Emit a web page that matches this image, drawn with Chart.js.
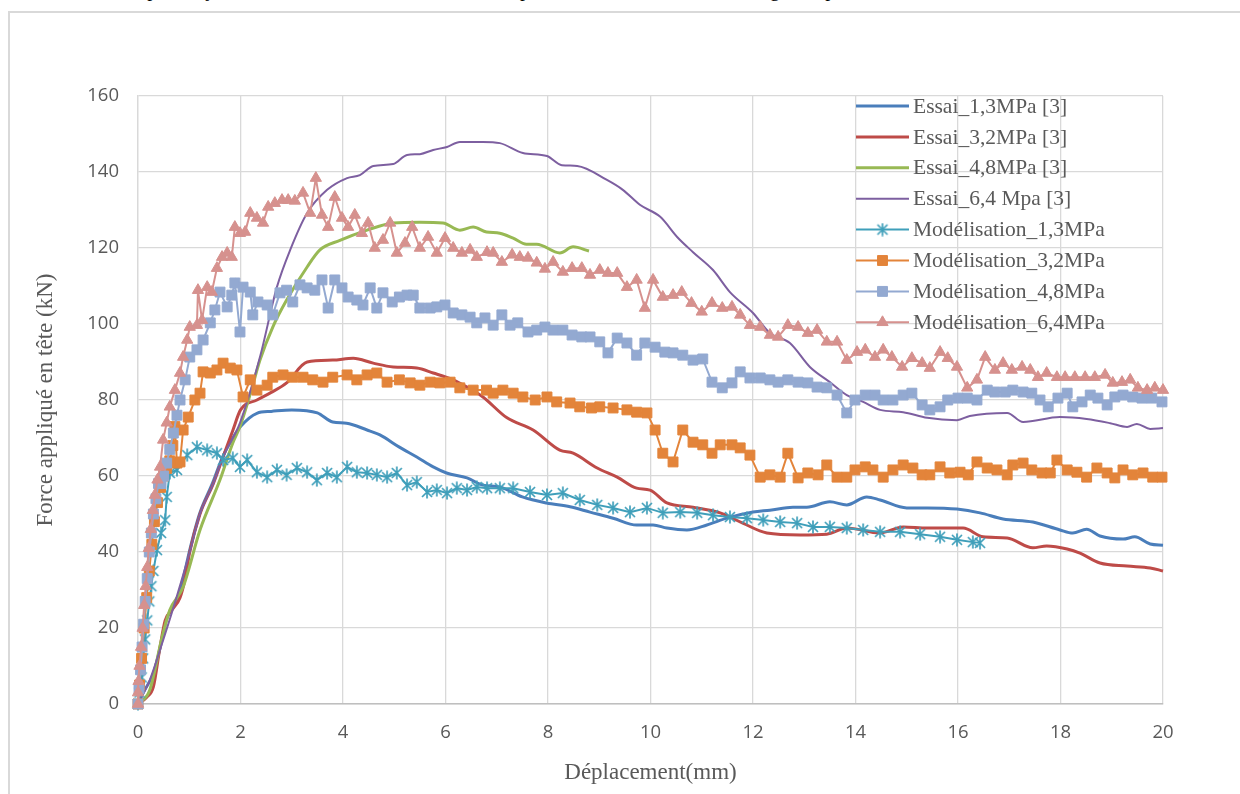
<!DOCTYPE html>
<html lang="fr">
<head>
<meta charset="utf-8">
<title>Force appliquée en tête - déplacement</title>
<script src="https://cdn.jsdelivr.net/npm/chart.js@4.4.1/dist/chart.umd.min.js"></script>
<style>
  html, body { margin: 0; padding: 0; background: #fff; }
  body { width: 1240px; height: 794px; position: relative; overflow: hidden; }
  #topline { position: absolute; left: 14px; top: -21px; font: 20px/20px "Liberation Serif", "Times New Roman", serif; color: #000; white-space: nowrap; }
  #frame { position: absolute; left: 8px; top: 11px; width: 1260px; height: 820px; border: 2px solid #d9d9d9; box-sizing: border-box; }
  #chart { position: absolute; left: 0; top: 0; }
</style>
</head>
<body>
<div id="topline">Nous avons comparé le jeu de résultats avec un modèle de comportement de résistance de calage des plus réalistes.</div>
<div id="frame"></div>
<canvas id="chart" width="1240" height="794"></canvas>
<script>
// axes
const xTicks = [0, 2, 4, 6, 8, 10, 12, 14, 16, 18, 20];
const yTicks = [0, 20, 40, 60, 80, 100, 120, 140, 160];

const seriesNames = [
  'Essai_1,3MPa [3]', 'Essai_3,2MPa [3]', 'Essai_4,8MPa [3]', 'Essai_6,4 Mpa [3]',
  'Modélisation_1,3MPa', 'Modélisation_3,2MPa', 'Modélisation_4,8MPa', 'Modélisation_6,4MPa'
];

// essais (courbes lissées)
const essai13X = [0, 0.1, 0.3, 0.47, 0.55, 0.66, 0.8, 0.9, 1.0, 1.2, 1.45, 1.65, 1.85, 2.0, 2.32, 2.6, 3.0, 3.5, 3.8, 4.07, 4.47, 4.72, 5.1, 5.44, 5.76, 6.02, 6.42, 6.73, 7.06, 7.5, 7.97, 8.43, 8.82, 9.27, 9.73, 10.05, 10.32, 10.71, 11.1, 11.49, 12.0, 12.33, 12.78, 13.05, 13.5, 13.83, 14.22, 14.48, 15.0, 15.4, 15.98, 16.43, 16.88, 17.46, 17.99, 18.24, 18.51, 18.77, 19.22, 19.45, 19.75, 20.0];
const essai13Y = [0, 3, 8, 17, 22, 25, 29, 34, 40, 50, 58, 65, 70, 73, 76.5, 77, 77.4, 76.6, 74.2, 73.9, 72.1, 70.8, 67.6, 65, 62.4, 60.8, 59.5, 57.6, 57.1, 54.5, 52.9, 51.9, 50.5, 48.9, 47.1, 47.1, 46.3, 45.8, 47.1, 48.9, 50.5, 51, 51.8, 51.8, 53.2, 52.4, 54.5, 53.7, 51.6, 51.6, 51.3, 50.3, 48.7, 47.9, 45.8, 45, 46, 44.2, 43.4, 44, 42.1, 41.8];

const essai32X = [0, 0.17, 0.3, 0.43, 0.53, 0.66, 0.82, 0.92, 1.01, 1.21, 1.47, 1.66, 1.85, 2.0, 2.32, 2.6, 2.9, 3.3, 3.8, 4.2, 4.59, 4.98, 5.44, 5.76, 6.15, 6.42, 6.73, 7.2, 7.71, 8.23, 8.49, 8.96, 9.35, 9.73, 9.99, 10.32, 10.83, 11.36, 11.8, 12.27, 12.92, 13.44, 13.83, 14.48, 14.93, 15.4, 16.1, 16.49, 16.96, 17.46, 17.73, 18.13, 18.38, 18.77, 19.3, 19.75, 20.0];
const essai32Y = [0, 1.8, 4.5, 15, 22, 24.7, 28, 33, 40, 50, 58, 65, 72, 77.4, 80, 82, 84.5, 90, 90.5, 91, 89.7, 88.7, 88.4, 87.1, 85.3, 83.4, 80.8, 75.3, 72.1, 66.8, 66, 62.1, 59.7, 56.8, 56.3, 52.9, 51.8, 50.3, 47.6, 45, 44.5, 44.7, 46.3, 45, 46.6, 46.3, 46.3, 44, 43.7, 41.1, 41.6, 40.8, 39.7, 37.1, 36.3, 35.8, 35];

const essai48X = [0, 0.23, 0.47, 0.62, 0.88, 1.21, 1.6, 1.85, 1.99, 2.2, 2.38, 2.63, 2.9, 3.3, 3.55, 3.94, 4.47, 4.98, 5.5, 5.95, 6.28, 6.54, 6.8, 7.06, 7.32, 7.58, 7.78, 8.23, 8.49, 8.8];
const essai48Y = [0, 3.7, 17.6, 24.7, 30.8, 45.8, 59, 68.7, 73, 82, 90.5, 99.2, 106.3, 115, 119.5, 122, 124.7, 126.6, 126.8, 126.6, 124.7, 125.5, 124.2, 123.9, 122.6, 121, 121, 118.7, 120.3, 119.2];

const essai64X = [0, 0.23, 0.49, 0.66, 1.01, 1.21, 1.47, 1.66, 1.99, 2.38, 2.71, 2.97, 3.3, 3.69, 4.08, 4.33, 4.59, 4.98, 5.25, 5.5, 5.76, 6.03, 6.28, 6.73, 7.06, 7.51, 7.98, 8.27, 8.57, 9.15, 9.46, 9.8, 10.19, 10.52, 10.83, 11.22, 11.55, 12.0, 12.33, 12.72, 13.11, 13.5, 13.83, 14.15, 14.48, 14.93, 15.4, 15.98, 16.23, 16.96, 17.27, 17.99, 18.51, 18.97, 19.3, 19.49, 19.75, 20.0];
const essai64Y = [0, 6.3, 16.8, 24, 40, 50, 58, 65, 74, 91.3, 109.7, 119.5, 129.2, 135.3, 138.4, 139.2, 141.6, 142.1, 144.5, 144.7, 145.8, 146.6, 147.9, 147.9, 147.6, 145, 144.2, 141.8, 141.6, 137.9, 135.3, 131.3, 128.2, 122.9, 118.9, 114.2, 108.4, 102.9, 97.6, 95, 88.7, 84.7, 81.3, 79.5, 77.4, 76.8, 75.3, 74.7, 75.8, 76.6, 74.2, 75.5, 75, 73.9, 72.9, 73.7, 72.4, 72.6];

// modélisations (points)
const mod13X = [0, 0.03, 0.07, 0.1, 0.14, 0.18, 0.22, 0.26, 0.3, 0.37, 0.45, 0.53, 0.56, 0.62, 0.76, 0.96, 1.15, 1.35, 1.54, 1.66, 1.85, 1.99, 2.13, 2.32, 2.52, 2.71, 2.9, 3.1, 3.3, 3.49, 3.69, 3.88, 4.08, 4.27, 4.47, 4.66, 4.86, 5.05, 5.25, 5.44, 5.64, 5.83, 6.03, 6.22, 6.42, 6.61, 6.81, 7.06, 7.32, 7.65, 7.98, 8.29, 8.62, 8.96, 9.27, 9.6, 9.93, 10.24, 10.58, 10.91, 11.22, 11.55, 11.88, 12.2, 12.53, 12.86, 13.17, 13.5, 13.83, 14.15, 14.48, 14.87, 15.26, 15.65, 15.98, 16.29, 16.43];
const mod13Y = [0, 3, 7, 12, 17, 22, 27, 31, 35, 40.5, 45, 48.4, 54.5, 60.8, 61.6, 65.5, 67.6, 66.8, 66, 64.2, 64.7, 62.4, 64.2, 61, 59.7, 61.6, 60.3, 62.1, 61, 58.9, 60.8, 59.7, 62.4, 61, 60.8, 60.3, 59.7, 60.8, 57.6, 58.4, 55.8, 56.3, 55.5, 56.8, 56.3, 57.1, 56.8, 56.8, 56.8, 55.8, 55, 55.5, 53.7, 52.4, 51.6, 50.5, 51.6, 50.3, 50.5, 50.3, 49.7, 49.2, 48.9, 48.4, 47.9, 47.6, 46.6, 46.6, 46.3, 45.8, 45.3, 45.3, 44.7, 44, 43.2, 42.6, 42.4];

const mod32X = [0, 0.03, 0.07, 0.12, 0.17, 0.22, 0.27, 0.32, 0.38, 0.44, 0.5, 0.56, 0.62, 0.68, 0.72, 0.76, 0.82, 0.88, 0.98, 1.11, 1.21, 1.27, 1.41, 1.54, 1.66, 1.8, 1.93, 2.05, 2.19, 2.32, 2.52, 2.63, 2.83, 3.02, 3.22, 3.41, 3.61, 3.8, 4.08, 4.27, 4.47, 4.66, 4.86, 5.1, 5.31, 5.5, 5.7, 5.89, 6.09, 6.28, 6.54, 6.8, 6.93, 7.12, 7.32, 7.51, 7.75, 7.98, 8.17, 8.43, 8.62, 8.85, 9.01, 9.27, 9.54, 9.73, 9.93, 10.09, 10.24, 10.44, 10.63, 10.83, 11.02, 11.2, 11.36, 11.59, 11.75, 11.94, 12.14, 12.33, 12.53, 12.68, 12.88, 13.07, 13.27, 13.44, 13.64, 13.83, 13.99, 14.19, 14.34, 14.54, 14.73, 14.93, 15.12, 15.3, 15.45, 15.65, 15.84, 16.04, 16.2, 16.37, 16.57, 16.76, 16.96, 17.07, 17.27, 17.44, 17.64, 17.8, 17.93, 18.13, 18.32, 18.51, 18.71, 18.91, 19.06, 19.22, 19.41, 19.61, 19.8, 19.98];
const mod32Y = [0, 5, 12, 20, 28, 35, 42, 48, 53, 57, 60, 62, 64, 68, 73, 63.4, 63.7, 72.1, 75.5, 80, 81.8, 87.4, 87.1, 87.9, 89.7, 88.4, 87.9, 80.8, 85.3, 82.6, 83.9, 86, 86.6, 86, 86, 85.3, 84.7, 86, 86.6, 85.3, 86.6, 87.1, 84.7, 85.3, 84.5, 83.9, 84.7, 84.5, 84.7, 83.2, 82.6, 82.6, 81.8, 82.6, 81.8, 80.8, 80, 80.8, 79.5, 79.2, 78.2, 77.9, 78.2, 77.9, 77.4, 76.8, 76.6, 72.1, 66, 63.7, 72.1, 68.9, 68.2, 66, 68.2, 68.2, 67.4, 65.5, 59.7, 60.3, 59.7, 66, 59.5, 60.8, 60.3, 62.9, 59.7, 59.7, 61.6, 62.4, 61.6, 59.7, 61.6, 62.9, 62.1, 60.3, 60.3, 62.4, 60.8, 61, 60.3, 63.7, 62.1, 61.6, 60.3, 62.9, 63.4, 61.6, 60.8, 60.8, 64.2, 61.6, 61, 59.7, 62.1, 60.8, 59.5, 61.6, 60.3, 60.8, 59.7, 59.7];

const mod48X = [0, 0.02, 0.05, 0.08, 0.11, 0.14, 0.18, 0.22, 0.26, 0.3, 0.35, 0.4, 0.45, 0.5, 0.56, 0.62, 0.69, 0.76, 0.82, 0.92, 1.01, 1.15, 1.27, 1.41, 1.5, 1.6, 1.74, 1.83, 1.89, 1.99, 2.05, 2.19, 2.24, 2.34, 2.52, 2.63, 2.77, 2.9, 3.02, 3.16, 3.3, 3.45, 3.59, 3.71, 3.84, 3.98, 4.1, 4.27, 4.39, 4.53, 4.66, 4.78, 4.96, 5.1, 5.25, 5.37, 5.5, 5.7, 5.83, 5.99, 6.15, 6.32, 6.48, 6.61, 6.77, 6.93, 7.1, 7.26, 7.41, 7.61, 7.78, 7.94, 8.1, 8.29, 8.47, 8.66, 8.82, 9.01, 9.17, 9.35, 9.54, 9.73, 9.89, 10.09, 10.28, 10.44, 10.63, 10.83, 11.02, 11.2, 11.4, 11.59, 11.75, 11.94, 12.14, 12.33, 12.49, 12.68, 12.88, 13.07, 13.25, 13.44, 13.64, 13.83, 13.99, 14.19, 14.38, 14.54, 14.73, 14.93, 15.1, 15.3, 15.45, 15.65, 15.8, 16.0, 16.18, 16.37, 16.57, 16.72, 16.92, 17.07, 17.27, 17.44, 17.6, 17.76, 17.95, 18.13, 18.24, 18.42, 18.58, 18.73, 18.91, 19.06, 19.22, 19.41, 19.59, 19.78, 19.98];
const mod48Y = [0, 4, 9, 15, 21, 27, 33, 40, 45, 50, 54, 58, 58, 60, 63.4, 67, 71.3, 76, 80, 85.3, 91.3, 93.2, 95.8, 100.3, 103.7, 108.4, 104.5, 107.6, 110.8, 97.9, 109.7, 108.4, 102.4, 105.8, 105, 102.4, 108.2, 108.9, 105.8, 110.3, 109.5, 108.9, 111.6, 104.2, 111.6, 109.5, 107.1, 106.3, 105, 109.5, 104.2, 108.2, 105.8, 107.1, 107.6, 107.6, 104.2, 104.2, 104.5, 105, 102.9, 102.4, 101.8, 100.3, 101.6, 99.7, 102.4, 99.7, 100.3, 97.9, 98.4, 99.2, 98.4, 98.4, 97.1, 96.6, 96.6, 95.3, 92.4, 96.3, 95, 91.8, 95, 93.9, 92.6, 92.4, 91.8, 90.5, 90.8, 84.7, 83.2, 84.5, 87.4, 85.8, 85.8, 85.3, 84.7, 85.3, 84.7, 84.5, 83.4, 83.2, 81.3, 76.6, 80, 81.3, 81.3, 80, 80, 81.3, 81.8, 78.7, 77.4, 78.2, 80, 80.5, 80.5, 80, 82.6, 82.1, 82.1, 82.6, 82.1, 81.8, 80, 78.2, 80.5, 81.8, 78.2, 79.5, 81.3, 80.5, 78.7, 80.8, 81.3, 80.8, 80.5, 80.5, 79.5];

const mod64X = [0, 0, 0.01, 0.03, 0.06, 0.09, 0.12, 0.15, 0.18, 0.21, 0.25, 0.29, 0.33, 0.38, 0.43, 0.49, 0.56, 0.62, 0.72, 0.82, 0.88, 0.96, 1.01, 1.15, 1.17, 1.25, 1.35, 1.44, 1.54, 1.64, 1.74, 1.83, 1.89, 1.99, 2.09, 2.19, 2.32, 2.44, 2.54, 2.67, 2.81, 2.93, 3.06, 3.22, 3.36, 3.47, 3.59, 3.71, 3.84, 3.98, 4.1, 4.23, 4.37, 4.49, 4.62, 4.78, 4.92, 5.05, 5.21, 5.35, 5.5, 5.66, 5.83, 5.99, 6.15, 6.32, 6.48, 6.61, 6.81, 6.93, 7.1, 7.3, 7.45, 7.61, 7.78, 7.94, 8.1, 8.29, 8.47, 8.66, 8.82, 9.01, 9.17, 9.35, 9.54, 9.73, 9.89, 10.05, 10.24, 10.44, 10.61, 10.8, 11.0, 11.2, 11.4, 11.59, 11.75, 11.94, 12.14, 12.33, 12.49, 12.68, 12.88, 13.07, 13.25, 13.44, 13.64, 13.83, 14.03, 14.19, 14.38, 14.54, 14.71, 14.91, 15.1, 15.3, 15.45, 15.65, 15.8, 15.98, 16.18, 16.37, 16.53, 16.72, 16.88, 17.05, 17.25, 17.41, 17.56, 17.73, 17.93, 18.09, 18.28, 18.48, 18.67, 18.87, 19.02, 19.2, 19.36, 19.51, 19.69, 19.84, 20.0];
const mod64Y = [0, 3, 6, 10, 15, 20, 26, 31, 36, 41, 46, 51, 55, 59, 62.4, 69.5, 74, 78.2, 82.6, 87.1, 91.3, 95.8, 99.2, 99.7, 108.9, 101, 109.7, 108.4, 114.7, 117.6, 118.7, 117.6, 125.5, 123.9, 124.2, 129.2, 127.9, 126.6, 130.8, 131.8, 132.6, 132.6, 132.4, 134.5, 129.2, 138.4, 128.7, 125.5, 133.4, 127.9, 125.5, 128.7, 123.9, 126.6, 120, 122.1, 126.6, 118.7, 121.3, 125.5, 120, 122.9, 118.7, 122.6, 120, 118.7, 119.5, 117.6, 118.9, 118.7, 116.3, 118.2, 117.6, 117.4, 116.1, 114.5, 116.3, 113.7, 114.7, 114.7, 112.9, 114.2, 113.4, 113.4, 109.7, 111.6, 104.2, 111.6, 107.1, 107.6, 108.4, 105.5, 103.2, 105.5, 104.2, 104.5, 102.4, 99.7, 99.2, 97.1, 96.6, 99.7, 99.2, 97.6, 98.4, 95.3, 95.3, 90.5, 92.6, 93.2, 91.3, 93.2, 91.3, 88.7, 91, 89.7, 88.4, 92.6, 91, 88.7, 83.2, 85.3, 91.3, 87.9, 89.7, 87.9, 88.7, 87.9, 86, 87.1, 86, 86, 86, 86, 86, 86.6, 84.5, 84.7, 85.3, 83.2, 82.6, 83.2, 82.6];

function pts(xs, ys) {
  return xs.map(function (x, i) { return { x: x, y: ys[i] }; });
}

// marqueur astérisque façon Excel
function asterisk(color) {
  const c = document.createElement('canvas');
  c.width = 14; c.height = 14;
  const g = c.getContext('2d');
  g.strokeStyle = color;
  g.lineWidth = 1.7;
  g.beginPath();
  g.moveTo(2, 2); g.lineTo(12, 12);
  g.moveTo(12, 2); g.lineTo(2, 12);
  g.moveTo(7, 0.5); g.lineTo(7, 13.5);
  g.stroke();
  return c;
}

function essai(i, xs, ys, color, width) {
  return {
    label: seriesNames[i], data: pts(xs, ys), showLine: true,
    borderColor: color, backgroundColor: color, borderWidth: width,
    pointRadius: 0, pointHoverRadius: 0, cubicInterpolationMode: 'monotone',
    fill: false, order: 10 - i, clip: false
  };
}

function modele(i, xs, ys, color, style, radius) {
  return {
    label: seriesNames[i], data: pts(xs, ys), showLine: true,
    borderColor: color, backgroundColor: color, borderWidth: 2,
    pointStyle: style, pointRadius: radius, pointHoverRadius: radius,
    pointBackgroundColor: color, pointBorderColor: color, pointBorderWidth: 1,
    tension: 0, fill: false, order: 10 - i, clip: false
  };
}

const aquaColor = '#3f9fba';

const datasets = [
  essai(0, essai13X, essai13Y, '#4a7ebb', 3),
  essai(1, essai32X, essai32Y, '#be4b48', 3),
  essai(2, essai48X, essai48Y, '#98b954', 3),
  essai(3, essai64X, essai64Y, '#7d5fa0', 2),
  modele(4, mod13X, mod13Y, aquaColor, asterisk(aquaColor), 6),
  modele(5, mod32X, mod32Y, '#e3843a', 'rect', 7),
  modele(6, mod48X, mod48Y, '#93a9d1', 'rect', 7),
  modele(7, mod64X, mod64Y, '#d6918e', 'triangle', 6.5)
];

// légende dans la zone de traçage
const boxLegend = {
  id: 'boxLegend',
  afterDraw(chart) {
    const ctx = chart.ctx;
    const area = chart.chartArea;
    const x0 = area.right - 307;
    const y0 = area.top + 10;
    const step = 30.9;
    chart.data.datasets.forEach(function (ds, i) {
      const y = y0 + i * step;
      ctx.save();
      ctx.strokeStyle = ds.borderColor;
      ctx.lineWidth = ds.borderWidth;
      ctx.beginPath();
      ctx.moveTo(x0, y);
      ctx.lineTo(x0 + 53, y);
      ctx.stroke();
      if (ds.pointRadius > 0) {
        ctx.fillStyle = ds.pointBackgroundColor;
        ctx.strokeStyle = ds.pointBorderColor;
        ctx.lineWidth = 1;
        Chart.helpers.drawPoint(ctx, { pointStyle: ds.pointStyle, radius: ds.pointRadius, borderWidth: 1, rotation: 0 }, x0 + 26.5, y);
      }
      ctx.fillStyle = '#595959';
      ctx.font = '21.5px "Liberation Serif", "Times New Roman", serif';
      ctx.textBaseline = 'middle';
      ctx.textAlign = 'left';
      ctx.fillText(ds.label, x0 + 57, y + 1);
      ctx.restore();
    });
  }
};

const tickFont = { family: '"Open Sans", sans-serif', size: 18.5 };
const titleFont = { family: '"Liberation Serif", "Times New Roman", serif', size: 23 };

new Chart(document.getElementById('chart'), {
  type: 'scatter',
  data: { datasets: datasets },
  options: {
    responsive: false,
    animation: false,
    devicePixelRatio: 1,
    layout: { padding: { left: 0, right: 77, top: 96, bottom: 0 } },
    plugins: { legend: { display: false }, tooltip: { enabled: false } },
    scales: {
      x: {
        type: 'linear',
        min: xTicks[0], max: xTicks[xTicks.length - 1],
        ticks: { stepSize: xTicks[1] - xTicks[0], color: '#595959', font: tickFont, padding: 18, maxRotation: 0 },
        grid: { color: '#d9d9d9', lineWidth: 1.3, drawTicks: false },
        border: { color: '#bfbfbf', width: 1.5 },
        title: { display: true, text: 'Déplacement(mm)', color: '#595959', font: titleFont, padding: { top: 4, bottom: 7 } },
        afterFit(scale) { scale.height = 90; }
      },
      y: {
        type: 'linear',
        min: yTicks[0], max: yTicks[yTicks.length - 1],
        ticks: { stepSize: yTicks[1] - yTicks[0], color: '#595959', font: tickFont, padding: 19 },
        grid: { color: '#d9d9d9', lineWidth: 1.3, drawTicks: false },
        border: { color: '#d9d9d9', width: 1.3 },
        title: { display: true, text: 'Force appliqué en tête (kN)', color: '#595959', font: titleFont, padding: { top: 32, bottom: 4 } },
        afterFit(scale) { scale.width = 138; }
      }
    }
  },
  plugins: [boxLegend]
});
</script>
</body>
</html>
